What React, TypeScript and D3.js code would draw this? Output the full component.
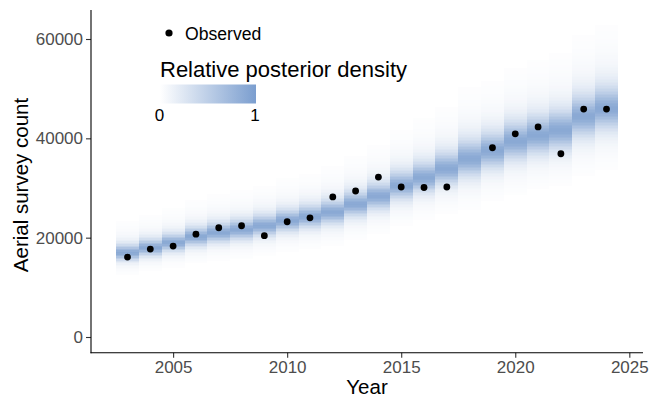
import React, { useEffect, useRef } from 'react';
import * as d3 from 'd3';

// survey years and observed counts (2018 had no survey)
const years = [2003, 2004, 2005, 2006, 2007, 2008, 2009, 2010, 2011, 2012, 2013,
  2014, 2015, 2016, 2017, 2018, 2019, 2020, 2021, 2022, 2023, 2024];
const observed = [16100, 17700, 18300, 20700, 22000, 22400, 20400, 23200, 24000, 28200, 29400,
  32200, 30200, 30100, 30200, null, 38100, 40900, 42300, 36900, 45900, 45900];

// posterior mode and scale of the estimated count per year
const postMode = [17100, 18100, 19100, 20300, 21100, 21700, 22500, 23500, 24300, 25200, 26800,
  28400, 30600, 32200, 34000, 36000, 37600, 39500, 40700, 41700, 44500, 46100];
const postScale = [1150, 1200, 1250, 1350, 1400, 1450, 1500, 1550, 1600, 1700, 1800,
  1900, 2050, 2150, 2300, 2600, 2550, 2700, 2750, 2850, 3000, 3100];

const yTicks = [0, 20000, 40000, 60000];
const xTicks = [2005, 2010, 2015, 2020, 2025];

const FONT = '"Liberation Sans", Arial, sans-serif';
const LOW = '#ffffff';
const HIGH = '#7b9ecf';
const DF = 3;

function App() {
  const ref = useRef<SVGSVGElement>(null);

  useEffect(() => {
    const svg = d3.select(ref.current);
    svg.selectAll('*').remove();

    const x = d3.scaleLinear().domain([2001.4, 2025.6]).range([91, 643]);
    const y = d3.scaleLinear().domain([-3161, 65839]).range([352.7, 10]);
    const fill = d3.scaleLinear<string>().domain([0, 1]).range([LOW, HIGH]).interpolate(d3.interpolateRgb);

    // density tiles
    const step = 300;
    const cells: { year: number; lo: number; d: number }[] = [];
    years.forEach((yr, i) => {
      const s = postScale[i] / postMode[i];
      const m = Math.log(postMode[i]);
      const dens = (v: number) => Math.pow(1 + Math.pow((Math.log(v) - m) / s, 2) / DF, -(DF + 1) / 2);
      for (let v = 2000; v < 66000; v += step) {
        const r = dens(v + step / 2);
        if (r > 0.015) cells.push({ year: yr, lo: v, d: r });
      }
    });

    svg.append('g')
      .attr('shape-rendering', 'crispEdges')
      .attr('opacity', 0.88)
      .selectAll('rect')
      .data(cells)
      .join('rect')
      .attr('x', d => x(d.year - 0.5))
      .attr('width', x(1) - x(0))
      .attr('y', d => y(d.lo + step))
      .attr('height', y(0) - y(step) + 0.5)
      .attr('fill', d => fill(Math.min(1, d.d)));

    // observed points
    svg.append('g')
      .selectAll('circle')
      .data(years.map((yr, i) => ({ yr, v: observed[i] })).filter(d => d.v !== null))
      .join('circle')
      .attr('cx', d => x(d.yr))
      .attr('cy', d => y(d.v as number))
      .attr('r', 3.4)
      .attr('fill', 'black');

    // axes
    const yAxis = svg.append('g')
      .attr('transform', 'translate(91,0)')
      .call(d3.axisLeft(y).tickValues(yTicks).tickSize(5).tickPadding(3).tickFormat(d => String(d)));
    const xAxis = svg.append('g')
      .attr('transform', 'translate(0,352.7)')
      .call(d3.axisBottom(x).tickValues(xTicks).tickSize(5).tickPadding(3).tickFormat(d => String(d)));
    [yAxis, xAxis].forEach(g => {
      g.select('.domain').remove();
      g.selectAll('line').attr('stroke', '#333333').attr('stroke-width', 1.1);
      g.selectAll('text').attr('fill', '#4d4d4d').style('font-family', FONT).style('font-size', '17px');
    });
    svg.append('line').attr('x1', 91).attr('x2', 91).attr('y1', 10).attr('y2', 353.2)
      .attr('stroke', 'black').attr('stroke-width', 1.1);
    svg.append('line').attr('x1', 90.5).attr('x2', 643).attr('y1', 352.7).attr('y2', 352.7)
      .attr('stroke', 'black').attr('stroke-width', 1.1);

    // axis titles
    svg.append('text')
      .attr('x', 367).attr('y', 394)
      .attr('text-anchor', 'middle')
      .style('font-family', FONT).style('font-size', '20.5px')
      .text('Year');
    svg.append('text')
      .attr('transform', 'translate(28,185) rotate(-90)')
      .attr('text-anchor', 'middle')
      .style('font-family', FONT).style('font-size', '20.5px')
      .text('Aerial survey count');

    // legend: observed
    svg.append('circle').attr('cx', 169).attr('cy', 33).attr('r', 3.6).attr('fill', 'black');
    svg.append('text')
      .attr('x', 185).attr('y', 39.5)
      .style('font-family', FONT).style('font-size', '17.6px')
      .text('Observed');

    // legend: density colour bar
    svg.append('text')
      .attr('x', 160).attr('y', 77)
      .style('font-family', FONT).style('font-size', '22px')
      .text('Relative posterior density');
    const grad = svg.append('defs').append('linearGradient').attr('id', 'dens-grad');
    grad.append('stop').attr('offset', '0%').attr('stop-color', LOW);
    grad.append('stop').attr('offset', '100%').attr('stop-color', HIGH);
    svg.append('rect')
      .attr('x', 160).attr('y', 84.5).attr('width', 96).attr('height', 19)
      .attr('fill', 'url(#dens-grad)');
    const lx = d3.scaleLinear().domain([0, 1]).range([159.5, 255]);
    svg.append('g')
      .selectAll('text')
      .data([0, 1])
      .join('text')
      .attr('x', d => lx(d)).attr('y', 121)
      .attr('text-anchor', 'middle')
      .style('font-family', FONT).style('font-size', '17px')
      .text(d => String(d));
  }, []);

  return (
    <svg ref={ref} width={650} height={399}
      style={{ position: 'absolute', left: 0, top: 0, background: 'white' }} />
  );
}

export default App;
